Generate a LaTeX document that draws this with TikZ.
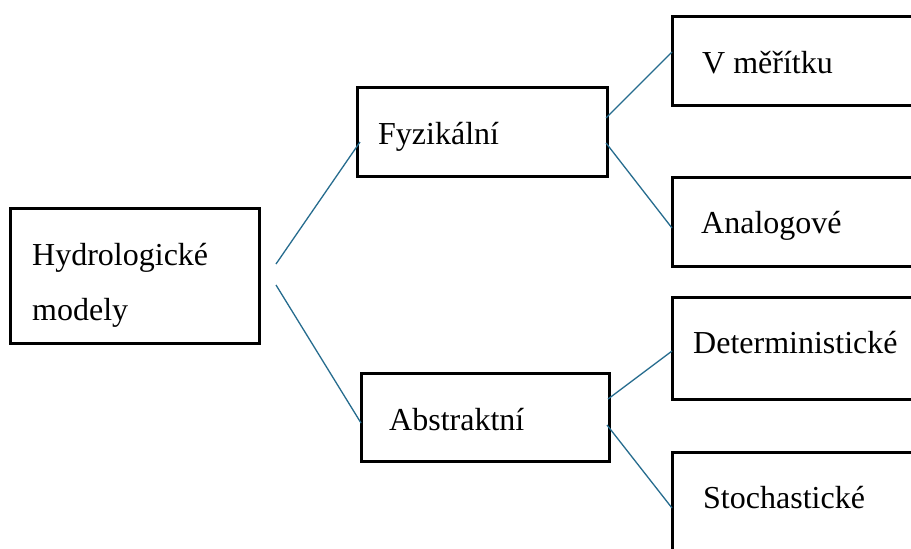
\documentclass[tikz,border=0pt]{standalone}
\usepackage{fontspec}
\setmainfont{Liberation Serif}
\definecolor{linkblue}{RGB}{38,108,142}
\begin{document}
\begin{tikzpicture}[x=1pt,y=-1pt,
  box/.style={draw=black,line width=3pt,rectangle,inner sep=0pt},
  lbl/.style={anchor=base west,inner sep=0pt,font=\fontsize{32}{38}\selectfont},
  link/.style={draw=linkblue,line width=1.3pt}]
\clip (0,0) rectangle (911,549);
\fill[white] (0,0) rectangle (911,549);
% boxes
\node[box,minimum width=249pt,minimum height=135pt] (hyd) at (134.5,275.5) {};
\node[box,minimum width=250pt,minimum height=89pt] (fyz) at (482,131.5) {};
\node[box,minimum width=248pt,minimum height=88pt] (abs) at (485,417) {};
\node[box,minimum width=258pt,minimum height=89pt] (vme) at (801,60.5) {};
\node[box,minimum width=258pt,minimum height=89pt] (ana) at (801,221.5) {};
\node[box,minimum width=258pt,minimum height=102pt] (det) at (801,348) {};
\node[box,minimum width=258pt,minimum height=108pt] (sto) at (801,506) {};
% labels
\node[lbl] (thyd1) at (32,265) {Hydrologické};
\node[lbl] (thyd2) at (32,320) {modely};
\node[lbl] (tfyz) at (378,144) {Fyzikální};
\node[lbl] (tabs) at (389,430) {Abstraktní};
\node[lbl] (tvme) at (702,73) {V měřítku};
\node[lbl] (tana) at (701,233) {Analogové};
\node[lbl] (tdet) at (693,353) {Deterministické};
\node[lbl] (tsto) at (703,508) {Stochastické};
% connector end points
\coordinate (h1) at (276,264);
\coordinate (h2) at (276,285);
\coordinate (f0) at (360,142);
\coordinate (a0) at (361,423);
\coordinate (f1) at (606,118);
\coordinate (f2) at (606,143);
\coordinate (v0) at (672,52);
\coordinate (n0) at (672,228);
\coordinate (a1) at (608,399);
\coordinate (a2) at (607,425);
\coordinate (d0) at (672,351);
\coordinate (s0) at (672,508);
\draw[link] (h1) -- (f0);
\draw[link] (h2) -- (a0);
\draw[link] (f1) -- (v0);
\draw[link] (f2) -- (n0);
\draw[link] (a1) -- (d0);
\draw[link] (a2) -- (s0);
\end{tikzpicture}
\end{document}
